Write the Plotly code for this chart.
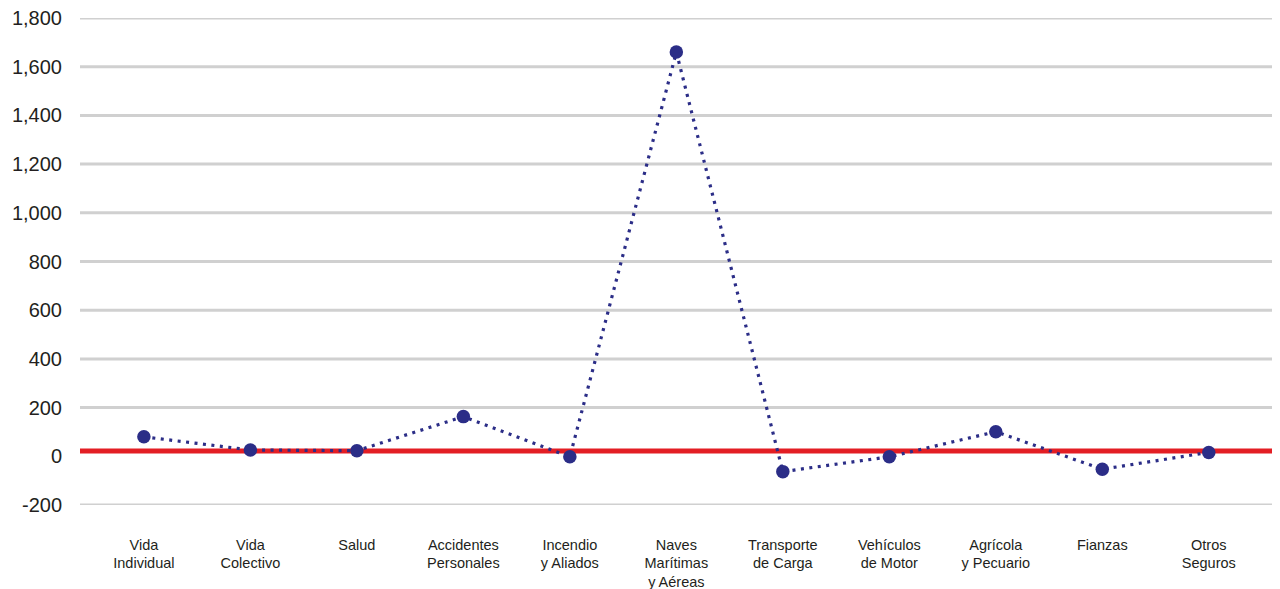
import plotly.graph_objects as go

categories = ["Vida<br>Individual", "Vida<br>Colectivo", "Salud", "Accidentes<br>Personales",
              "Incendio<br>y Aliados", "Naves<br>Marítimas<br>y Aéreas", "Transporte<br>de Carga",
              "Vehículos<br>de Motor", "Agrícola<br>y Pecuario", "Fianzas", "Otros<br>Seguros"]
values = [80, 26, 23, 163, -2, 1660, -63, -2, 101, -53, 16]
reference_value = 22
y_ticks = [-200, 0, 200, 400, 600, 800, 1000, 1200, 1400, 1600, 1800]
y_ticktext = ["-200", "0", "200", "400", "600", "800", "1,000", "1,200", "1,400", "1,600", "1,800"]

x_pos = list(range(len(categories)))

fig = go.Figure()

# gray gridlines at every labelled value except the one replaced by the red reference line
for v in y_ticks:
    if v != 0:
        fig.add_hline(y=v, line=dict(color="#d0d0d0", width=3), layer="below")

fig.add_hline(y=reference_value, line=dict(color="#e31e24", width=5), layer="below")

fig.add_trace(go.Scatter(
    x=x_pos, y=values, mode="lines+markers",
    line=dict(color="#2b2d87", width=3.2, dash="3px,5.5px"),
    marker=dict(color="#2b2d87", size=13.5),
    showlegend=False,
))

fig.update_layout(
    width=1272, height=590,
    margin=dict(l=72, r=2, t=10, b=93),
    paper_bgcolor="white", plot_bgcolor="white",
    font=dict(family="Liberation Sans, Arial, sans-serif", color="#231f20"),
    xaxis=dict(
        range=[-0.6, 10.65], tickvals=x_pos, ticktext=categories,
        showgrid=False, zeroline=False, showline=False, ticks="",
        tickfont=dict(size=14.5), ticklabelstandoff=29, automargin=False,
        ticklabeloverflow="allow",
    ),
    yaxis=dict(
        range=[-200, 1800], tickvals=y_ticks, ticktext=y_ticktext,
        showgrid=False, zeroline=False,
        showline=False, ticks="", tickfont=dict(size=20),
        ticklabelstandoff=17, automargin=False,
        ticklabeloverflow="allow",
    ),
)

fig.write_html("out.html")
